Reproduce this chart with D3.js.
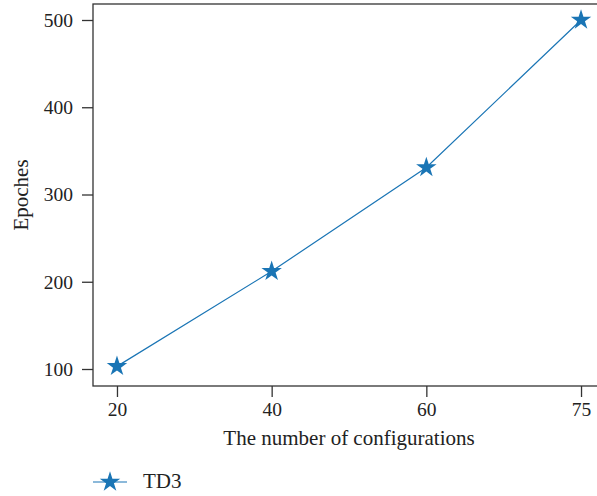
<!DOCTYPE html>
<html><head><meta charset="utf-8">
<script src="https://cdn.jsdelivr.net/npm/d3@7"></script>
<style>body{margin:0;background:#fff}svg{display:block}</style>
</head><body>
<script>
const categories = ["20", "40", "60", "75"];
const values = [103, 212, 331, 500];
const yTicks = [100, 200, 300, 400, 500];
const seriesName = "TD3";

const W = 597, H = 496;
const m = {left: 93, top: 4, right: 605, bottom: 386};
const color = "#1a75b5";
const font = "'Liberation Serif', 'DejaVu Serif', serif";

const svg = d3.select("body").append("svg").attr("width", W).attr("height", H)
  .style("font-family", font);

const x = d3.scalePoint().domain(categories).range([m.left, m.right]).padding(0.155);
const y = d3.scaleLinear().domain([100, 500]).range([369, 20]);

// frame
svg.append("rect").attr("x", m.left).attr("y", m.top)
  .attr("width", m.right - m.left).attr("height", m.bottom - m.top)
  .attr("fill", "none").attr("stroke", "#333").attr("stroke-width", 1.3);

const xa = svg.append("g").attr("transform", `translate(0,${m.bottom})`)
  .call(d3.axisBottom(x).tickSize(11).tickPadding(5));
const ya = svg.append("g").attr("transform", `translate(${m.left},0)`)
  .call(d3.axisLeft(y).tickValues(yTicks).tickSize(11).tickPadding(9));
[xa, ya].forEach(g => {
  g.select(".domain").remove();
  g.selectAll("line").attr("stroke", "#333").attr("stroke-width", 1.3);
  g.selectAll("text").attr("fill", "#222").style("font-size", "19.5px").style("font-family", font);
});

svg.append("text").attr("x", (m.left + m.right) / 2).attr("y", 445)
  .attr("text-anchor", "middle").attr("fill", "#222").style("font-size", "21px")
  .text("The number of configurations");
svg.append("text").attr("transform", `translate(28,${(m.top + m.bottom) / 2}) rotate(-90)`)
  .attr("text-anchor", "middle").attr("fill", "#222").style("font-size", "21px")
  .text("Epoches");

const data = categories.map((c, i) => ({c, v: values[i]}));
svg.append("path").datum(data)
  .attr("fill", "none").attr("stroke", color).attr("stroke-width", 1.2)
  .attr("d", d3.line().x(d => x(d.c)).y(d => y(d.v)));

const star = d3.symbol().type(d3.symbolStar).size(130);
svg.selectAll(".pt").data(data).join("path")
  .attr("transform", d => `translate(${x(d.c)},${y(d.v)})`)
  .attr("d", star).attr("fill", color);

// legend
const lg = svg.append("g").attr("transform", "translate(93,482)");
lg.append("line").attr("x1", 0).attr("x2", 34).attr("stroke", color).attr("stroke-width", 1.2);
lg.append("path").attr("transform", "translate(17,0)").attr("d", star).attr("fill", color);
lg.append("text").attr("x", 50).attr("y", 6).attr("fill", "#222").style("font-size", "21px").text(seriesName);
</script>
</body></html>
